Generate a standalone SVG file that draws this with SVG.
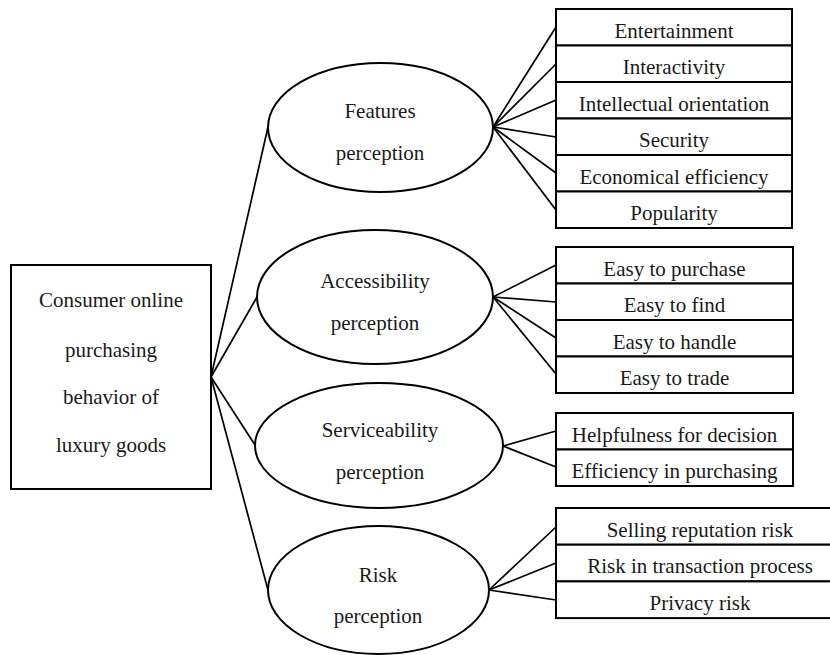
<svg xmlns="http://www.w3.org/2000/svg" width="830" height="655" viewBox="0 0 830 655">
<style>
  .box { fill: #fff; stroke: #000; stroke-width: 2; }
  .ell { fill: #fff; stroke: #000; stroke-width: 2; }
  .conn line { stroke: #000; stroke-width: 1.7; }
  text { font-family: "Liberation Serif", "Times New Roman", serif; font-size: 21px; fill: #1a1a1a; text-anchor: middle; }
</style>
<rect width="830" height="655" fill="#fff"/>
<g id="connectors" class="conn">
  <line x1="211" y1="377" x2="268" y2="127"/>
  <line x1="211" y1="377" x2="257" y2="297"/>
  <line x1="211" y1="377" x2="255" y2="445"/>
  <line x1="211" y1="377" x2="268" y2="590"/>
  <line x1="493" y1="127" x2="556" y2="27"/>
  <line x1="493" y1="127" x2="556" y2="64"/>
  <line x1="493" y1="127" x2="556" y2="100"/>
  <line x1="493" y1="127" x2="556" y2="137"/>
  <line x1="493" y1="127" x2="556" y2="173"/>
  <line x1="493" y1="127" x2="556" y2="210"/>
  <line x1="493" y1="297" x2="556" y2="265"/>
  <line x1="493" y1="297" x2="556" y2="302"/>
  <line x1="493" y1="297" x2="556" y2="338"/>
  <line x1="493" y1="297" x2="556" y2="374"/>
  <line x1="503" y1="446" x2="556" y2="431"/>
  <line x1="503" y1="446" x2="556" y2="467"/>
  <line x1="489" y1="590" x2="556" y2="527"/>
  <line x1="489" y1="590" x2="556" y2="563"/>
  <line x1="489" y1="590" x2="556" y2="600"/>
</g>
<g id="consumer">
  <rect class="box" x="11" y="265" width="200" height="224"/>
  <text x="111" y="307">Consumer online</text>
  <text x="111" y="357">purchasing</text>
  <text x="111" y="404">behavior of</text>
  <text x="111" y="452">luxury goods</text>
</g>
<g id="features">
  <ellipse class="ell" cx="380.5" cy="127.5" rx="112.5" ry="64.5"/>
  <text x="380" y="118">Features</text>
  <text x="380" y="160">perception</text>
</g>
<g id="accessibility">
  <ellipse class="ell" cx="375" cy="297" rx="118" ry="67"/>
  <text x="375" y="288">Accessibility</text>
  <text x="375" y="330">perception</text>
</g>
<g id="serviceability">
  <ellipse class="ell" cx="379" cy="445.5" rx="124" ry="62.5"/>
  <text x="380" y="437">Serviceability</text>
  <text x="380" y="479">perception</text>
</g>
<g id="risk">
  <ellipse class="ell" cx="378.5" cy="590" rx="110.5" ry="64"/>
  <text x="378" y="582">Risk</text>
  <text x="378" y="623">perception</text>
</g>
<g id="features-items">
  <rect class="box" x="556" y="9" width="236" height="36.5"/>
  <rect class="box" x="556" y="45.5" width="236" height="36.5"/>
  <rect class="box" x="556" y="82" width="236" height="36.5"/>
  <rect class="box" x="556" y="118.5" width="236" height="36.5"/>
  <rect class="box" x="556" y="155" width="236" height="36.5"/>
  <rect class="box" x="556" y="191.5" width="236" height="36.5"/>
  <text x="674" y="37.5">Entertainment</text>
  <text x="674" y="74">Interactivity</text>
  <text x="674" y="110.5">Intellectual orientation</text>
  <text x="674" y="147">Security</text>
  <text x="674" y="183.5">Economical efficiency</text>
  <text x="674" y="220">Popularity</text>
</g>
<g id="accessibility-items">
  <rect class="box" x="556" y="247" width="237" height="36.5"/>
  <rect class="box" x="556" y="283.5" width="237" height="36.5"/>
  <rect class="box" x="556" y="320" width="237" height="36.5"/>
  <rect class="box" x="556" y="356.5" width="237" height="36.5"/>
  <text x="674.5" y="275.5">Easy to purchase</text>
  <text x="674.5" y="312">Easy to find</text>
  <text x="674.5" y="348.5">Easy to handle</text>
  <text x="674.5" y="385">Easy to trade</text>
</g>
<g id="serviceability-items">
  <rect class="box" x="556" y="413" width="237" height="36.5"/>
  <rect class="box" x="556" y="449.5" width="237" height="36.5"/>
  <text x="674.5" y="441.5">Helpfulness for decision</text>
  <text x="674.5" y="478">Efficiency in purchasing</text>
</g>
<g id="risk-items">
  <rect class="box" x="556" y="508" width="288" height="36.7"/>
  <rect class="box" x="556" y="544.7" width="288" height="36.7"/>
  <rect class="box" x="556" y="581.4" width="288" height="36.7"/>
  <text x="700" y="536.5">Selling reputation risk</text>
  <text x="700" y="573.2">Risk in transaction process</text>
  <text x="700" y="610">Privacy risk</text>
</g>
</svg>
